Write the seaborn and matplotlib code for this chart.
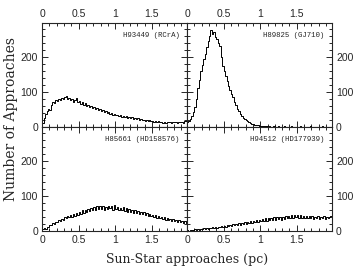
import numpy as np
import pandas as pd
import matplotlib
matplotlib.use('Agg')
import matplotlib.pyplot as plt
import seaborn as sns
from matplotlib.ticker import MultipleLocator

# ============================================================================
# DATA (counts per 0.02 pc bin)
# ============================================================================

bin_width = 0.02
n_bins = 99

titles = ['H93449 (RCrA)', 'H89825 (GJ710)', 'H85661 (HD158576)', 'H94512 (HD177939)']

counts_rcra = [
    12, 25, 38, 45, 52, 48, 62, 72, 68, 76, 74, 80, 77, 82, 79, 86, 89, 80, 84, 76,
    79, 72, 78, 83, 70, 74, 66, 70, 63, 67, 60, 64, 56, 60, 55, 58, 51, 54, 48, 50,
    45, 48, 42, 44, 39, 42, 37, 39, 34, 38, 33, 35, 30, 33, 29, 31, 27, 30, 26, 28,
    24, 27, 23, 25, 22, 24, 20, 23, 19, 21, 18, 20, 17, 19, 16, 18, 15, 17, 14, 16,
    13, 15, 12, 14, 12, 15, 13, 14, 12, 15, 13, 14, 12, 15, 13, 14, 12, 16, 18]

counts_gj710 = [
    14, 16, 22, 30, 42, 58, 80, 110, 135, 160, 178, 195, 210, 228, 245, 262, 278, 265, 272, 258,
    252, 240, 232, 200, 175, 160, 145, 132, 118, 105, 95, 86, 72, 64, 52, 44, 36, 30, 26, 22,
    19, 16, 13, 11, 9, 8, 6, 5, 4, 3, 2, 2, 1, 1, 1, 0, 1, 0, 0, 1,
    0, 0, 1, 0, 0, 0, 1, 0, 0, 0, 0, 1, 0, 0, 0, 0, 0, 1, 0, 0,
    0, 0, 0, 0, 1, 0, 0, 0, 0, 0, 0, 0, 1, 0, 0, 0, 0, 0, 0]

counts_hd158576 = [
    4, 8, 6, 12, 10, 17, 15, 22, 19, 26, 24, 31, 28, 34, 30, 38, 35, 42, 38, 44,
    40, 48, 43, 52, 46, 55, 48, 58, 52, 60, 54, 63, 56, 66, 58, 68, 60, 70, 61, 72,
    62, 70, 60, 68, 62, 72, 64, 70, 60, 74, 62, 68, 58, 66, 60, 67, 56, 64, 55, 62,
    54, 60, 52, 58, 50, 57, 49, 55, 47, 53, 45, 51, 43, 49, 41, 46, 39, 44, 37, 42,
    35, 40, 33, 38, 31, 36, 30, 34, 28, 33, 27, 31, 25, 30, 24, 28, 22, 27, 21]

counts_hd177939 = [
    2, 0, 1, 3, 1, 4, 2, 5, 3, 6, 4, 7, 5, 8, 6, 9, 7, 10, 8, 11,
    9, 12, 10, 13, 11, 14, 12, 16, 13, 17, 14, 18, 15, 20, 16, 21, 17, 22, 19, 24,
    20, 25, 21, 27, 22, 28, 24, 30, 25, 31, 27, 34, 28, 35, 29, 36, 30, 37, 31, 38,
    32, 39, 33, 38, 32, 40, 34, 41, 35, 42, 36, 44, 37, 46, 38, 45, 37, 44, 36, 43,
    35, 42, 36, 43, 35, 41, 34, 40, 35, 41, 34, 40, 35, 41, 34, 40, 35, 38, 42]

all_counts = [counts_rcra, counts_gj710, counts_hd158576, counts_hd177939]

centers = np.arange(n_bins) * bin_width + bin_width / 2

# ============================================================================
# PLOT
# ============================================================================

sns.set_style('ticks')
plt.rcParams['font.family'] = ['Liberation Sans', 'DejaVu Sans']

fig, axes = plt.subplots(2, 2, figsize=(3.6, 2.67), dpi=100, sharex=True, sharey=True)
fig.subplots_adjust(left=0.117, right=0.922, top=0.914, bottom=0.136, wspace=0, hspace=0)

mono = 'Liberation Mono'
serif = ['DejaVu Serif']

for idx, ax in enumerate(axes.flatten()):
    df = pd.DataFrame({'x': centers, 'n': all_counts[idx]})
    sns.histplot(data=df, x='x', weights='n', binwidth=bin_width,
                 binrange=(0, n_bins * bin_width), element='step', fill=False,
                 color='black', linewidth=0.7, ax=ax)
    ax.set_xlim(0, 1.98)
    ax.set_ylim(0, 298)
    ax.xaxis.set_major_locator(MultipleLocator(0.5))
    ax.xaxis.set_minor_locator(MultipleLocator(0.1))
    ax.yaxis.set_major_locator(MultipleLocator(100))
    ax.yaxis.set_minor_locator(MultipleLocator(20))
    ax.set_xticks([0, 0.5, 1, 1.5])
    ax.set_xticklabels(['0', '0.5', '1', '1.5'])
    ax.set_xlabel('')
    ax.set_ylabel('')
    for s in ax.spines.values():
        s.set_linewidth(0.8)

    row, col = divmod(idx, 2)
    ax.tick_params(which='both', direction='in', top=True, right=True,
                   labelbottom=(row == 1), labeltop=(row == 0),
                   labelleft=(col == 0), labelright=(col == 1),
                   labelsize=7.5, width=0.7, pad=3)
    ax.tick_params(which='major', length=4)
    ax.tick_params(which='minor', length=2)

    ax.text(0.95, 0.88, titles[idx], transform=ax.transAxes, ha='right', va='center',
            fontsize=5.3, family=mono)

fig.text(0.03, 0.556, 'Number of Approaches', rotation=90, ha='center', va='center',
         fontsize=10, family=serif)
fig.text(0.52, 0.028, 'Sun-Star approaches (pc)', ha='center', va='center',
         fontsize=9, family=serif)

plt.savefig('out.png', dpi=100)
